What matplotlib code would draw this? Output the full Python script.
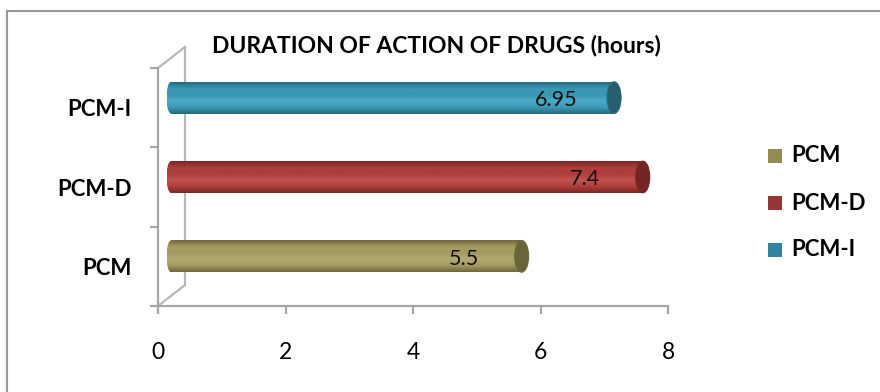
import numpy as np
import matplotlib
matplotlib.use("Agg")
import matplotlib.pyplot as plt
from matplotlib.transforms import ScaledTranslation
from matplotlib.patches import Rectangle, Ellipse
from matplotlib.colors import LinearSegmentedColormap
from matplotlib.lines import Line2D

# ---- data ----
categories = ["PCM", "PCM-D", "PCM-I"]
durations = [5.5, 7.4, 6.95]
title = "DURATION OF ACTION OF DRUGS (hours)"
x_ticks = [0, 2, 4, 6, 8]

# colours: (highlight, body, shadow, cap)
palette = {
    "PCM":   ("#b3aa74", "#a39a61", "#6f683c", "#6b6438"),
    "PCM-D": ("#c0524f", "#ad3e3b", "#7a2725", "#742624"),
    "PCM-I": ("#4eaac6", "#3a98b4", "#28697d", "#265f70"),
}
legend_colors = {"PCM": "#948a54", "PCM-D": "#953735", "PCM-I": "#31859c"}

FONT = "Lato"
plt.rcParams["font.family"] = [FONT, "DejaVu Sans"]

W, H = 880, 392
DPI = 100
fig = plt.figure(figsize=(W / DPI, H / DPI), dpi=DPI)

# axes in pixel coordinates
x0, x1 = 158, 668
ytop, ybot = 68, 306
ax = fig.add_axes([x0 / W, 1 - ybot / H, (x1 - x0) / W, (ybot - ytop) / H])
ax.set_xlim(0, 8)
ax.set_ylim(-0.5, 2.5)
ax.patch.set_alpha(0)

grey = "#a6a6a6"
for s in ["top", "right"]:
    ax.spines[s].set_visible(False)
for s in ["left", "bottom"]:
    ax.spines[s].set_color(grey)
    ax.spines[s].set_linewidth(1.6)

# x ticks
ax.set_xticks(x_ticks)
ax.set_xticklabels([str(t) for t in x_ticks], fontsize=16.5)
ax.tick_params(axis="x", direction="out", length=6, width=1.6, color=grey, pad=20)

# y: labels at centers (no ticks), tick marks at boundaries
ypos = np.arange(len(categories))
ax.set_yticks(ypos)
ax.set_yticklabels(categories, fontsize=16, fontweight="bold")
ax.tick_params(axis="y", which="major", length=0, pad=19)
ax.set_yticks(np.arange(len(categories) + 1) - 0.5, minor=True)
ax.tick_params(axis="y", which="minor", direction="out", length=6, width=1.6, color=grey)

# 3D back wall lines
dx_w, dy_w = 27 / DPI, 21 / DPI
wall = ax.transAxes + ScaledTranslation(dx_w, dy_w, fig.dpi_scale_trans)
ax.add_line(Line2D([0, 0], [0, 1], transform=wall, color="#b8b8b8", lw=1.6, clip_on=False))
for yy in (0, 1):
    ax.add_line(Line2D([0, dx_w * DPI / (x1 - x0)], [yy, yy + dy_w * DPI / (ybot - ytop)],
                       transform=ax.transAxes, color="#b8b8b8", lw=1.6, clip_on=False))

# cylinder bars
dx_b, dy_b = 13 / DPI, 10 / DPI
bar_tr = ax.transData + ScaledTranslation(dx_b, dy_b, fig.dpi_scale_trans)
bh = 0.40
capw = 0.22
lcapw = 0.14
for i, (cat, val) in enumerate(zip(categories, durations)):
    hi, body, sh, cap = palette[cat]
    cmap = LinearSegmentedColormap.from_list(cat, [sh, body, hi, body, body, sh])
    grad = np.linspace(0, 1, 64).reshape(-1, 1)
    rect = Rectangle((0, i - bh / 2), val, bh, transform=bar_tr, facecolor="none", edgecolor="none")
    ax.add_patch(rect)
    im = ax.imshow(grad, cmap=cmap, aspect="auto", extent=(0, val, i - bh / 2, i + bh / 2),
                   origin="lower", transform=bar_tr, interpolation="bilinear", zorder=2)
    im.set_clip_path(rect)
    lcap = Ellipse((0, i), lcapw, bh, transform=bar_tr, facecolor="none", edgecolor="none")
    ax.add_patch(lcap)
    im2 = ax.imshow(grad, cmap=cmap, aspect="auto", extent=(-lcapw / 2, lcapw / 2, i - bh / 2, i + bh / 2),
                    origin="lower", transform=bar_tr, interpolation="bilinear", zorder=2)
    im2.set_clip_path(lcap)
    ax.add_patch(Ellipse((val, i), capw, bh, transform=bar_tr, facecolor=cap,
                         edgecolor=sh, lw=0.8, zorder=3))
    ax.text(val - 0.9, i - 0.03, f"{val:g}", transform=bar_tr, ha="center", va="center",
            fontsize=15.5, color="#111111", zorder=4)

ax.set_xlim(0, 8)
ax.set_ylim(-0.5, 2.5)

# title
fig.text(436 / W, 1 - 45 / H, title, ha="center", va="center", fontsize=16.5, fontweight="bold")

# legend (manual)
leg_y = [156, 203, 250]
for cat, ly in zip(categories, leg_y):
    fig.patches.append(Rectangle((768 / W, 1 - (ly + 7) / H), 14 / W, 14 / H,
                                 transform=fig.transFigure, facecolor=legend_colors[cat],
                                 edgecolor="none"))
    fig.text(791 / W, 1 - ly / H, cat, ha="left", va="center", fontsize=16, fontweight="bold")

# outer frame (top and left edges)
fig.add_artist(Line2D([7 / W, 1], [1 - 11 / H, 1 - 11 / H], transform=fig.transFigure,
                      color="#999999", lw=1.5))
fig.add_artist(Line2D([7 / W, 7 / W], [0, 1 - 11 / H], transform=fig.transFigure,
                      color="#999999", lw=1.5))

fig.savefig("out.png", dpi=DPI)
